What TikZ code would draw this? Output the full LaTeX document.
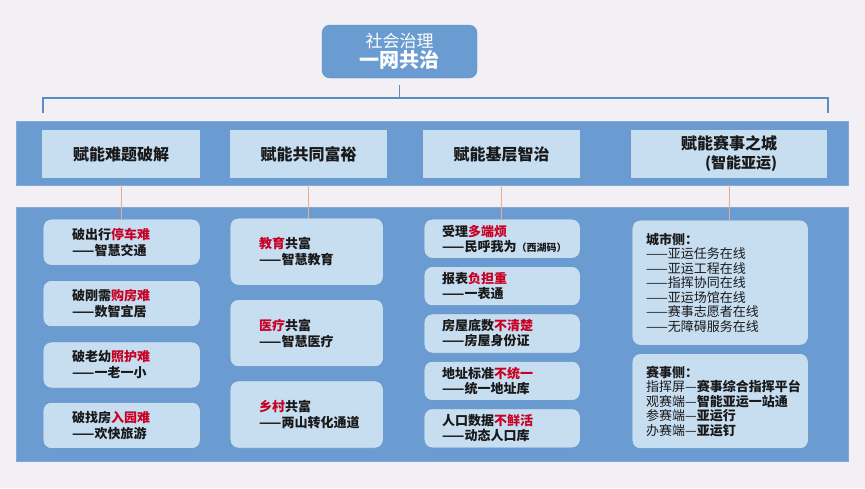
\documentclass[tikz,border=0pt]{standalone}
\usepackage{fontspec}
\setmainfont{Noto Sans CJK SC}
\usepackage{xcolor}
\usepackage{tikz}
\usetikzlibrary{positioning}

\definecolor{pagegray}{RGB}{242,240,245}
\definecolor{bandblue}{RGB}{106,156,210}
\definecolor{lightblue}{RGB}{199,221,240}
\definecolor{edgeblue}{RGB}{92,140,196}
\definecolor{hotred}{RGB}{200,0,35}
\definecolor{linkorange}{RGB}{236,172,140}
\definecolor{inkblack}{RGB}{25,25,25}
\newcommand{\hot}[1]{\textcolor{hotred}{#1}}

\begin{document}
\begin{tikzpicture}[
    x=1pt, y=-1pt,
    node distance=15pt,
    topblock/.style={rectangle, draw=edgeblue, fill=bandblue, rounded corners=8pt, minimum width=155pt, minimum height=53pt, text=white, align=center, inner sep=0pt},
    band/.style={rectangle, fill=bandblue, draw=bandblue!85!white, anchor=north west, inner sep=0pt, minimum width=832pt},
    head/.style={rectangle, fill=lightblue, minimum height=48pt, text=inkblack, font=\fontsize{16}{19}\selectfont\bfseries, align=center},
    itembox/.style={rectangle, draw=edgeblue, fill=lightblue, rounded corners=8pt, anchor=north west, align=left, text=inkblack, inner ysep=0pt, font=\fontsize{13}{16}\selectfont\bfseries},
    colA/.style={itembox, inner xsep=29pt, text width=99pt, minimum height=46pt},
    colB/.style={itembox, inner xsep=29pt, text width=95pt, minimum height=67pt},
    colC/.style={itembox, inner xsep=18pt, text width=120pt, minimum height=39pt, font=\fontsize{13}{15}\selectfont\bfseries},
    colD/.style={itembox, inner xsep=14pt, text width=148pt, font=\fontsize{13}{14.5}\selectfont},
    bracket/.style={draw=edgeblue, line width=1.5pt},
    link/.style={draw=linkorange, line width=0.8pt}
]
    % page
    \fill[pagegray] (0,0) rectangle (865,488);

    % top
    \node [topblock] (top) at (399.5,51.5) {{\fontsize{17}{21}\selectfont 社会治理}\\{\fontsize{20}{24}\selectfont\bfseries 一网共治}};

    % bands
    \node [band, minimum height=64pt] (band1) at (16,121) {};
    \node [band, minimum height=254pt] (band2) at (16,207) {};

    % headers
    \node [head, minimum width=158pt] (h1) at (121,154) {赋能难题破解};
    \node [head, minimum width=157pt] (h2) at (308.5,154) {赋能共同富裕};
    \node [head, minimum width=157pt] (h3) at (501.5,154) {赋能基层智治};
    \node [head, minimum width=196pt, align=right] (h4) at (729,154) {赋能赛事之城\\{\fontsize{15}{18}\selectfont (智能亚运)}};

    % bracket
    \draw [bracket, shorten <=7pt] (top.south) -- ++(0,20) coordinate (mid);
    \coordinate (bl) at (43,113);
    \coordinate (br) at (828,113);
    \draw [bracket] (bl) |- (mid) -| (br);

    % column 1
    \node [colA] (c1a) at (43,219) {破出行\hot{停车难}\\——智慧交通};
    \node [colA, below=15pt of c1a] (c1b) {破刚需\hot{购房难}\\——数智宜居};
    \node [colA, below=15pt of c1b] (c1c) {破老幼\hot{照护难}\\——一老一小};
    \node [colA, below=14pt of c1c] (c1d) {破找房\hot{入园难}\\——欢快旅游};

    % column 2
    \node [colB] (c2a) at (230,218) {\hot{教育}共富\\——智慧教育};
    \node [colB, below=14pt of c2a] (c2b) {\hot{医疗}共富\\——智慧医疗};
    \node [colB, below=14pt of c2b] (c2c) {\hot{乡村}共富\\\mbox{——两山转化通道}};

    % column 3
    \node [colC] (c3a) at (424,219) {受理\hot{多端烦}\\\mbox{——民呼我为{\fontsize{10}{12}\selectfont（西湖码）}}};
    \node [colC, below=8pt of c3a] (c3b) {报表\hot{负担重}\\——一表通};
    \node [colC, below=8pt of c3b] (c3c) {房屋底数\hot{不清楚}\\——房屋身份证};
    \node [colC, below=8pt of c3c] (c3d) {地址标准\hot{不统一}\\——统一地址库};
    \node [colC, below=8pt of c3d] (c3e) {人口数据\hot{不鲜活}\\——动态人口库};

    % column 4
    \node [colD, minimum height=125pt] (c4a) at (632,220) {{\bfseries 城市侧：}\\——亚运任务在线\\——亚运工程在线\\——指挥协同在线\\——亚运场馆在线\\——赛事志愿者在线\\——无障碍服务在线};
    \node [colD, minimum height=95pt, below=8pt of c4a] (c4b) {{\bfseries 赛事侧：}\\\mbox{指挥屏—{\bfseries 赛事综合指挥平台}}\\\mbox{观赛端—{\bfseries 智能亚运一站通}}\\参赛端—{\bfseries 亚运行}\\办赛端—{\bfseries 亚运钉}};

    % links
    \draw [link, shorten <=7pt] (h1.south) -- (h1.south |- c1a.north);
    \draw [link, shorten <=7pt] (h2.south) -- (h2.south |- c2a.north);
    \draw [link, shorten <=7pt] (h3.south) -- (h3.south |- c3a.north);
    \draw [link, shorten <=7pt] (h4.south) -- (h4.south |- c4a.north);
\end{tikzpicture}
\end{document}
